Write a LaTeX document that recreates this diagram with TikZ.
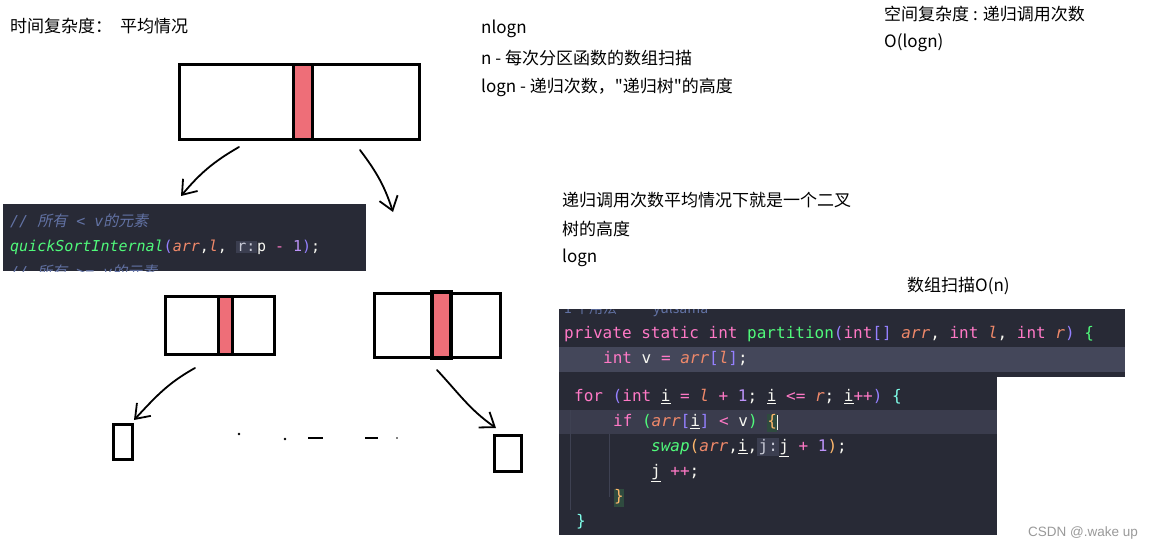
\documentclass[tikz,border=0pt]{standalone}
\usepackage{fontspec}
\setmainfont{Noto Sans CJK SC}
\newfontfamily\cmtcjk{Noto Sans CJK SC}[FakeSlant=0.2]
\newfontfamily\codefont{DejaVu Sans Mono}[ItalicFont={DejaVu Sans Mono Oblique}]
\newfontfamily\wmfont{Liberation Sans}
\usepackage{xcolor}
\usetikzlibrary{arrows.meta}

\definecolor{pivred}{HTML}{EE6E78}
\definecolor{codebg}{HTML}{282A36}
\definecolor{codehl}{HTML}{44475A}
\definecolor{codehlb}{HTML}{3A3C4D}
\definecolor{guidec}{HTML}{3E4152}
\definecolor{cmt}{HTML}{6272A4}
\definecolor{ckwc}{HTML}{FF79C6}
\definecolor{cfnc}{HTML}{50FA7B}
\definecolor{cparc}{HTML}{F0896A}
\definecolor{cnumc}{HTML}{BD93F9}
\definecolor{cbrc}{HTML}{9580FF}
\definecolor{corg}{HTML}{FFB86C}
\definecolor{ccyan}{HTML}{80FFEA}
\definecolor{ctxt}{HTML}{F8F8F2}
\definecolor{hintbg}{HTML}{3B3E50}
\definecolor{hintfg}{HTML}{C8CAD6}
\definecolor{bracebg}{HTML}{2F4B3F}
\definecolor{wmgrey}{HTML}{999999}

\newcommand{\ckw}[1]{\textcolor{ckwc}{#1}}
\newcommand{\cfn}[1]{\textcolor{cfnc}{#1}}
\newcommand{\cpar}[1]{\textcolor{cparc}{\textit{#1}}}
\newcommand{\cnum}[1]{\textcolor{cnumc}{#1}}
\newcommand{\cbr}[1]{\textcolor{cbrc}{#1}}
\newcommand{\inlay}[1]{{\setlength{\fboxsep}{1.5pt}\colorbox{hintbg}{\textcolor{hintfg}{#1}}}}
\newcommand{\matchb}[1]{{\setlength{\fboxsep}{0pt}\colorbox{bracebg}{\strut\textcolor{corg}{#1}}}}

\tikzset{
  blk/.style={draw, line width=3pt, inner sep=0pt, outer sep=0pt},
  pivot/.style={blk, fill=pivred},
  hand/.style={line width=1.8pt, line cap=round, -{Straight Barb[length=13pt,width=19pt]}},
  note/.style={anchor=west, inner sep=0pt, font=\fontsize{17}{20}\selectfont},
  codeA/.style={anchor=west, inner sep=0pt, text=ctxt, font=\codefont\fontsize{15}{18}\selectfont, text height=11pt, text depth=3pt},
  codeB/.style={anchor=west, inner sep=0pt, text=ctxt, font=\codefont\fontsize{16}{18}\selectfont, text height=12pt, text depth=3pt},
  guide/.style={guidec, line width=0.8pt}
}

\begin{document}
\begin{tikzpicture}[x=1pt,y=-1pt]
\useasboundingbox (0,0) rectangle (1150,550);

% notes
\node[note] (time) at (10,26) {时间复杂度：\hspace{8pt}平均情况};
\node[note] (nlogn) at (481,29) {nlogn};
\node[note] (nscan) at (481,58) {n - 每次分区函数的数组扫描};
\node[note] (lgdep) at (481,87) {logn - 递归次数，\textquotedbl 递归树\textquotedbl 的高度};
\node[note] (space) at (884,14) {空间复杂度 : 递归调用次数};
\node[note] (spval) at (884,43) {O(logn)};
\node[note] (tree1) at (562,200) {递归调用次数平均情况下就是一个二叉};
\node[note] (tree2) at (562,229) {树的高度};
\node[note] (tree3) at (562,258) {logn};
\node[note] (scan) at (907,286) {数组扫描O(n)};

% arrays
\node[blk, minimum width=240pt, minimum height=75pt] (top) at (299.5,102) {};
\node[pivot, minimum width=19pt, minimum height=75pt] (topv) at (303,102) {};
\node[blk, minimum width=109pt, minimum height=58pt] (lbox) at (220,325.5) {};
\node[pivot, minimum width=14pt, minimum height=58pt] (lv) at (225.5,325.5) {};
\node[blk, minimum width=126pt, minimum height=64pt] (rbox) at (437.5,325.5) {};
\node[pivot, line width=4pt, minimum width=19pt, minimum height=66pt] (rv) at (441.5,324.5) {};
\node[blk, minimum width=19pt, minimum height=35pt] (lleaf) at (123,442) {};
\node[blk, minimum width=27pt, minimum height=36pt] (rleaf) at (508,453.5) {};

% hand arrows
\coordinate (t1) at (239,147);
\coordinate (t2) at (181,196);
\coordinate (t3) at (360,150);
\coordinate (t4) at (393,212);
\coordinate (l1) at (195,368);
\coordinate (l2) at (134,420);
\coordinate (r1) at (437,370);
\coordinate (r2) at (496,428);
\draw[hand] (t1) to[out=210,in=50] (t2);
\draw[hand] (t3) to[out=-53,in=108] (t4);
\draw[hand] (l1) to[out=209,in=47] (l2);
\draw[hand] (r1) to[out=-47,in=145] (r2);

% ellipsis
\fill (239,434) circle [radius=1.3pt];
\fill (285,439) circle [radius=1.3pt];
\draw[line width=2pt] (308,438) -- (323,438);
\draw[line width=2pt] (365,438) -- (378,438);
\fill (397,438) circle [radius=0.9pt];

% code, recursive call
\fill[codebg] (3,204) rectangle (366,271);
\begin{scope}
\clip (3,204) rectangle (366,271);
\node[codeA] (c1a) at (10,222) {\textcolor{cmt}{\textit{// {\cmtcjk 所有} < v{\cmtcjk 的元素}}}};
\node[codeA] (c1b) at (10,247) {\cfn{\textit{quickSortInternal}}\cbr{(}\cpar{arr},\cpar{l}, \inlay{r:}p \ckw{-} \cnum{1}\cbr{)};};
\node[codeA] (c1c) at (10,273) {\textcolor{cmt}{\textit{// {\cmtcjk 所有} >= v{\cmtcjk 的元素}}}};
\end{scope}

% code, partition
\fill[codebg] (559,309) rectangle (1125,377);
\fill[codebg] (559,377) rectangle (997,535);
\fill[codehl] (559,347) rectangle (1125,372);
\fill[codehlb] (559,410) rectangle (997,434);
\draw[guide] (570,410) -- (570,510);
\draw[guide] (609,434) -- (609,497);
\begin{scope}
\clip (559,309) rectangle (1125,377);
\node[anchor=west, inner sep=0pt, text=cmt, font=\fontsize{14}{16}\selectfont] (usage) at (564,309) {1 个用法\hspace{36pt}yulsama};
\end{scope}
\node[codeB] (p1) at (564,334) {\ckw{private static int} \cfn{partition}\cbr{(}\ckw{int}\cbr{[]} \cpar{arr}, \ckw{int} \cpar{l}, \ckw{int} \cpar{r}\cbr{)} \cfn{\{}};
\node[codeB] (p2) at (603,359) {\ckw{int} v \ckw{=} \cpar{arr}\cbr{[}\cpar{l}\cbr{]};};
\node[codeB] (p3) at (574,397) {\ckw{for} \cbr{(}\ckw{int} \underline{i} \ckw{=} \cpar{l} \ckw{+} \cnum{1}; \underline{i} \ckw{<=} \cpar{r}; \underline{i}\ckw{++}\cbr{)} \textcolor{ccyan}{\{}};
\node[codeB] (p4) at (613,422) {\ckw{if} \cfn{(}\cpar{arr}\cbr{[}\underline{i}\cbr{]} \ckw{<} v\cfn{)} \matchb{\{}\textcolor{ctxt}{\rule[-3pt]{0.8pt}{15pt}}};
\node[codeB] (p5) at (651,447) {\cfn{\textit{swap}}\textcolor{corg}{(}\cpar{arr},\underline{i},\inlay{j:}\underline{j} \ckw{+} \cnum{1}\textcolor{corg}{)};};
\node[codeB] (p6) at (651,472) {\underline{j} \ckw{++};};
\node[codeB] (p7) at (614,497) {\matchb{\}}};
\node[codeB] (p8) at (576,522) {\textcolor{ccyan}{\}}};

\node[anchor=west, inner sep=0pt, text=wmgrey, font=\wmfont\fontsize{13.5}{16}\selectfont] (mark) at (1028,533) {CSDN @.wake up};
\end{tikzpicture}
\end{document}
